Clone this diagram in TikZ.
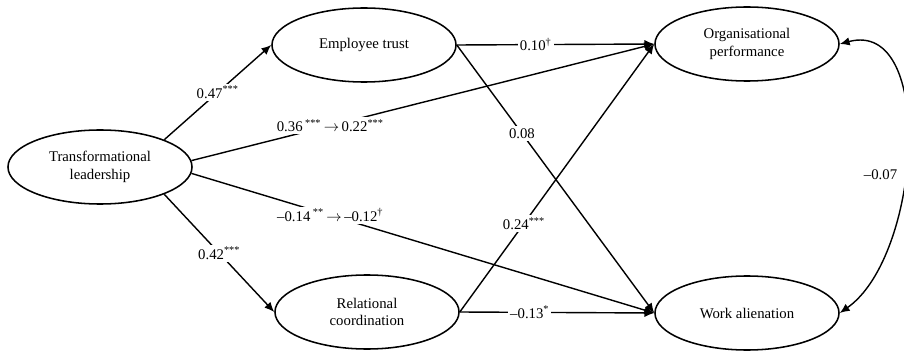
\documentclass[tikz,border=0pt]{standalone}
\usepackage{fontspec}
\setmainfont{Liberation Serif}
\usetikzlibrary{shapes.geometric,arrows.meta}
\begin{document}
\begin{tikzpicture}[x=0.025cm,y=0.025cm]
  \tikzset{ v/.style={ellipse,draw,line width=1.1pt,minimum width=4.6cm,minimum height=1.85cm,inner sep=0pt,align=center,font=\fontsize{10.5}{12.5}\selectfont},
    e/.style={line width=1pt,-{Latex[length=7pt,width=6pt]}},
    w/.style={fill=white,inner sep=1.5pt,font=\fontsize{10.5}{12.5}\selectfont},
  }
  \useasboundingbox (0,0) rectangle (904,350);
  \node[v] (tl) at (100,183) {Transformational\\leadership};
  \node[v] (et) at (364,305) {Employee trust};
  \node[v] (rc) at (367,38)  {Relational\\coordination};
  \node[v] (op) at (747,306) {Organisational\\performance};
  \node[v] (wa) at (747,37)  {Work alienation};


  % the paths between the variables
  \draw[e] (tl.23) -- node[w] (l1) {0.47\textsuperscript{***}} (et.west);
  \draw[e] (tl.4)  -- node[w,pos=0.3] (l2) {0.36\,\textsuperscript{***}\,$\rightarrow$\,0.22\textsuperscript{***}} (op.west);
  \draw[e] (tl.-4) -- node[w,pos=0.3] (l3) {–0.14\,\textsuperscript{**}\,$\rightarrow$\,–0.12\textsuperscript{\textdagger}} (wa.west);
  \draw[e] (tl.-23) -- node[w] (l4) {0.42\textsuperscript{***}} (rc.west);

  \draw[e] (et.east) -- node[w,pos=0.4] (l5) {0.10\textsuperscript{\textdagger}} (op.west);
  \draw[e] (et.east) -- node[w,pos=0.33] (l6) {0.08} (wa.west);

  \draw[e] (rc.east) -- node[w,pos=0.33] (l7) {0.24\textsuperscript{***}} (op.west);
  \draw[e] (rc.east) -- node[w,pos=0.36] (l8) {–0.13\textsuperscript{*}} (wa.west);

  \draw[e,{Latex[length=7pt,width=6pt]}-{Latex[length=7pt,width=6pt]}] (op.east) to[out=15,in=35,looseness=0.95] node[w,pos=0.57,xshift=-17pt] (l9) {–0.07} (wa.east);
\end{tikzpicture}
\end{document}
